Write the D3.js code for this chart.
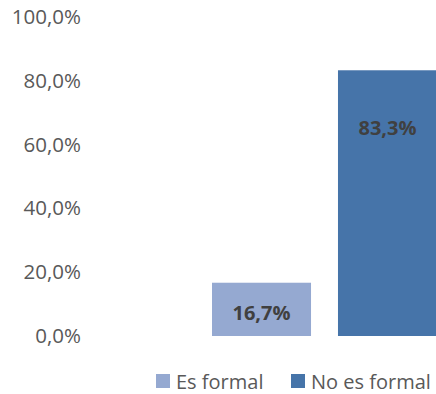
<!DOCTYPE html>
<html>
<head>
<meta charset="utf-8">
<script src="https://cdn.jsdelivr.net/npm/d3@7"></script>
<style>
  body { margin: 0; background: #fff; }
  text { font-family: "Open Sans", sans-serif; }
</style>
</head>
<body>
<div id="chart"></div>
<script>
// datos del gráfico
const categories = ["Es formal", "No es formal"];
const values = [16.7, 83.3];
const colors = ["#95A9D1", "#4674A9"];
const yTicks = [0, 20, 40, 60, 80, 100];

const W = 436, H = 394;
const fmt = (v) => v.toFixed(1).replace(".", ",") + "%";

const svg = d3.select("#chart").append("svg")
  .attr("width", W).attr("height", H);

const y = d3.scaleLinear().domain([0, 100]).range([336, 17]);
const x = d3.scaleBand().domain(categories).range([212, 437]).paddingInner(0.214).paddingOuter(0);

// etiquetas del eje Y
const yAxis = svg.append("g")
  .attr("transform", "translate(81,0)")
  .call(d3.axisLeft(y).tickValues(yTicks).tickSize(0).tickPadding(0).tickFormat(fmt));
yAxis.select(".domain").remove();
yAxis.selectAll("text")
  .attr("fill", "#595959")
  .style("font-size", "20.5px")
  .style("font-family", "'Open Sans', sans-serif");

// barras
svg.selectAll("rect.bar")
  .data(values)
  .enter().append("rect")
  .attr("class", "bar")
  .attr("x", (d, i) => x(categories[i]))
  .attr("width", x.bandwidth())
  .attr("y", (d) => y(d))
  .attr("height", (d) => y(0) - y(d))
  .attr("fill", (d, i) => colors[i]);

// etiquetas de datos
svg.selectAll("text.lbl")
  .data(values)
  .enter().append("text")
  .attr("class", "lbl")
  .attr("x", (d, i) => x(categories[i]) + x.bandwidth() / 2)
  .attr("y", (d) => Math.min((y(d) + y(0)) / 2 + 3, y(d) + 57))
  .attr("text-anchor", "middle")
  .attr("dominant-baseline", "central")
  .attr("fill", "#404040")
  .style("font-size", "20px")
  .style("font-weight", "bold")
  .text(fmt);

// leyenda
const legendX = [156, 291];
const legend = svg.selectAll("g.leg")
  .data(categories)
  .enter().append("g")
  .attr("class", "leg")
  .attr("transform", (d, i) => `translate(${legendX[i]},374)`);
legend.append("rect")
  .attr("width", 14).attr("height", 14)
  .attr("fill", (d, i) => colors[i]);
legend.append("text")
  .attr("x", 20).attr("y", 7)
  .attr("dominant-baseline", "central")
  .attr("fill", "#595959")
  .style("font-size", "20px")
  .text((d) => d);
</script>
</body>
</html>
